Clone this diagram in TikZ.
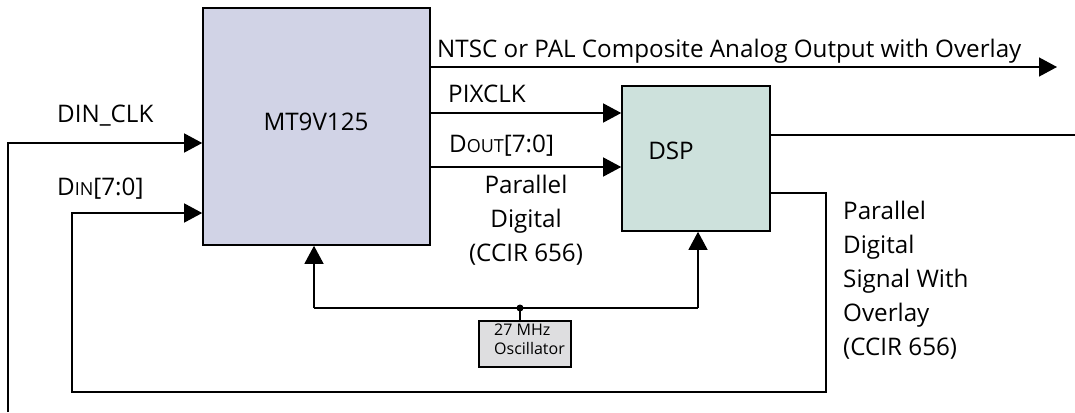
\documentclass[tikz,border=0pt]{standalone}
\usepackage{fontspec}
\setmainfont{Open Sans}
\usetikzlibrary{arrows.meta,positioning,calc}

\newcommand{\smcap}[1]{{\fontsize{18}{18}\selectfont #1}}

\begin{document}
\begin{tikzpicture}[
    x=1pt, y=-1pt,
    font=\fontsize{24.2}{34}\selectfont,
    blk/.style={draw, line width=1.6pt, inner sep=0pt},
    wire/.style={line width=1.3pt},
    sig/.style={wire, -{Triangle[length=18pt, width=19pt]}},
    lbl/.style={inner sep=0pt, anchor=base west},
  ]
  \useasboundingbox (0,0) rectangle (1075,412);

  % Blocks
  \node[blk, fill={rgb,255:red,209;green,211;blue,230},
        minimum width=227pt, minimum height=237pt] (mt) at (316.5,126.5) {};
  \node[inner sep=0pt] at (316,122) {MT9V125};
  \node[blk, fill={rgb,255:red,205;green,225;blue,220},
        minimum width=148pt, minimum height=145pt] (dsp) at (696,158.5) {};
  \node[inner sep=0pt] at (671,151) {DSP};
  \node[blk, fill={rgb,255:red,222;green,222;blue,224},
        minimum width=92pt, minimum height=46pt] (osc) at (525,344) {};
  \node[inner sep=0pt, anchor=north west, align=left,
        font=\fontsize{16}{19}\selectfont] at (494,324) {27 MHz\\Oscillator};

  % Free ends
  \coordinate (ntsc) at (1057,67);
  \coordinate (dout) at (1075,135);
  \coordinate (clk)  at (8,412);
  \coordinate (dot)  at (520,308);

  % MT9V125 to DSP
  \draw[sig] (ntsc -| mt.east) -- (ntsc);
  \draw[sig] (mt.east |- 0,113) -- (dsp.west |- 0,113);
  \draw[sig] (mt.east |- 0,167) -- (dsp.west |- 0,167);
  \draw[wire] (dsp.east |- dout) -- (dout);

  % Loop back and clock input
  \draw[sig] (dsp.east |- 0,193) -- (826,193) -- (826,392) -- (72,392)
    -- (72,213) -- (mt.west |- 0,213);
  \draw[sig] (clk) -- (8,143) -- (mt.west |- 0,143);

  % Oscillator
  \draw[sig] (314,308) -| (314,0 |- mt.south);
  \draw[wire] (314,308) -- (698,308);
  \draw[sig] (698,308) -- (698,0 |- dsp.south);
  \fill (dot) circle (3.5pt);
  \draw[wire] (dot) -- (dot |- osc.north);

  % Labels
  \node[lbl] at (437,57) {NTSC or PAL Composite Analog Output with Overlay};
  \node[lbl] at (448,102) {PIXCLK};
  \node[lbl] at (449,152) {D\smcap{OUT}[7:0]};
  \node[lbl] at (57,122) {DIN\_CLK};
  \node[lbl] at (57,195) {D\smcap{IN}[7:0]};
  \node[inner sep=0pt, anchor=north, align=center] at (526,175)
    {Parallel\\Digital\\(CCIR 656)};
  \node[inner sep=0pt, anchor=north west, align=left] at (843,201)
    {Parallel\\Digital\\Signal With\\Overlay\\(CCIR 656)};

\end{tikzpicture}
\end{document}
